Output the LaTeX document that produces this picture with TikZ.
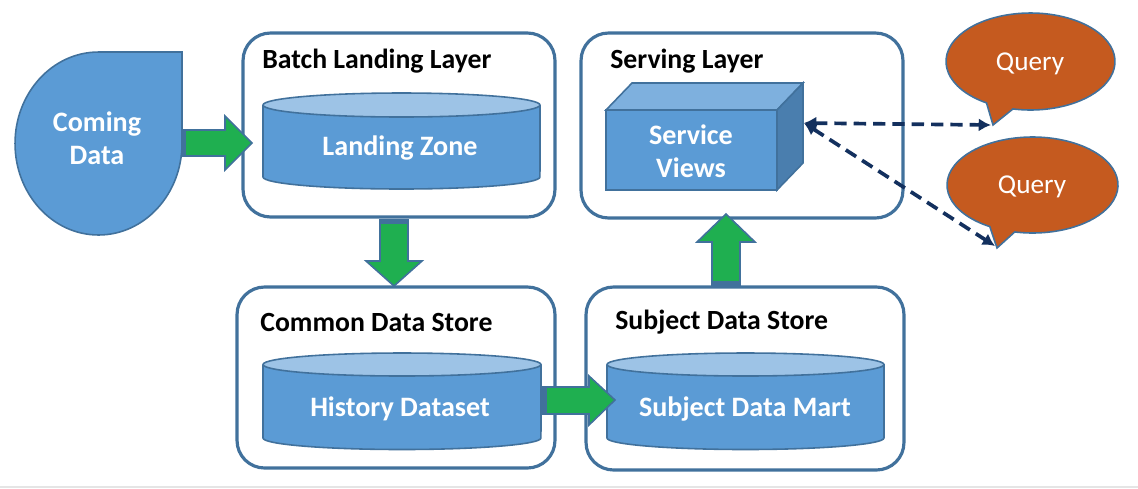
\documentclass[tikz,border=0pt]{standalone}
\usepackage{fontspec}
\setmainfont{Carlito}
\usetikzlibrary{arrows.meta,calc}
\definecolor{boxline}{HTML}{41719C}
\definecolor{cylfill}{HTML}{5B9BD5}
\definecolor{cyltop}{HTML}{9DC3E6}
\definecolor{cubetop}{HTML}{7EB0DE}
\definecolor{cuberight}{HTML}{4A7EAE}
\definecolor{arrowgreen}{HTML}{1FAF50}
\definecolor{queryorange}{HTML}{C55A1F}
\definecolor{navy}{HTML}{13305E}
\begin{document}
\begin{tikzpicture}[x=0.02cm,y=-0.02cm,
  layer/.style={draw=boxline, line width=1.8pt, rounded corners=0.55cm, fill=white, inner sep=0pt},
  title/.style={font=\fontsize{15.8}{18}\selectfont\bfseries, anchor=base west, inner sep=0pt},
  wtext/.style={font=\fontsize{16}{18.7}\selectfont\bfseries, text=white, align=center, inner sep=0pt},
  qtext/.style={font=\fontsize{15.5}{18}\selectfont, text=white, inner sep=0pt},
  shapeline/.style={draw=boxline, line width=0.9pt},
  barrow/.style={fill=arrowgreen, draw=boxline, line width=0.9pt, line join=miter},
  band/.style={fill=boxline},
  stripe/.style={draw=arrowgreen, line width=0.7pt},
  qline/.style={draw=navy, line width=2.1pt, dash pattern=on 7pt off 4pt,
     {Latex[length=7pt,width=7.5pt]}-{Latex[length=7pt,width=7.5pt]}}
]
\useasboundingbox (0,0) rectangle (1138,488);
\draw[black!10, line width=0.6pt] (0,487) -- (1138,487);

% layer boxes
\node[layer, minimum width=6.24cm, minimum height=3.68cm] (batch) at (399,125) {};
\node[layer, minimum width=6.44cm, minimum height=3.70cm] (serving) at (742,125.5) {};
\node[layer, minimum width=6.36cm, minimum height=3.62cm] (common) at (396,377.5) {};
\node[layer, minimum width=6.36cm, minimum height=3.66cm] (subject) at (745,378.5) {};

\node[title] (tbatch) at (262,68) {Batch Landing Layer};
\node[title] (tserving) at (610,68) {Serving Layer};
\node[title] (tcommon) at (260,331) {Common Data Store};
\node[title] (tsubject) at (615,329) {Subject Data Store};

% Coming data
\draw[shapeline, fill=cylfill] (182,52) -- (182,143.5)
  arc[start angle=0, end angle=-270, x radius=1.67cm, y radius=1.83cm] -- cycle;
\node[wtext] (coming) at (97,138) {Coming\\Data};

% cylinders
\draw[shapeline, fill=cylfill] (263,105) -- (263,177)
  arc[start angle=180, end angle=360, x radius=2.77cm, y radius=0.24cm] -- (540,105);
\draw[shapeline, fill=cyltop] (401.5,105) ellipse[x radius=2.77cm, y radius=0.24cm];
\node[wtext] (landing) at (400,148) {Landing Zone};

\draw[shapeline, fill=cylfill] (263,364.5) -- (263,438)
  arc[start angle=180, end angle=360, x radius=2.78cm, y radius=0.23cm] -- (541,364.5);
\draw[shapeline, fill=cyltop] (402,364.5) ellipse[x radius=2.78cm, y radius=0.23cm];
\node[wtext] (history) at (400,409) {History Dataset};

\draw[shapeline, fill=cylfill] (607,364.5) -- (607,438)
  arc[start angle=180, end angle=360, x radius=2.77cm, y radius=0.23cm] -- (884,364.5);
\draw[shapeline, fill=cyltop] (745.5,364.5) ellipse[x radius=2.77cm, y radius=0.23cm];
\node[wtext] (mart) at (745,409) {Subject Data Mart};

% cube
\draw[shapeline, fill=cylfill] (606,110) rectangle (777,190);
\draw[shapeline, fill=cubetop] (606,110) -- (632,83) -- (803,83) -- (777,110) -- cycle;
\draw[shapeline, fill=cuberight] (777,110) -- (803,83) -- (803,163) -- (777,190) -- cycle;
\node[wtext] (views) at (691,151) {Service\\Views};
\coordinate (cubeport) at (804,123);

% green block arrows
\draw[barrow] (182,130) -- (225,130) -- (225,116) -- (252,143) -- (225,170) -- (225,156) -- (182,156) -- cycle;
\fill[band] (182,130) rectangle (186,156);
\draw[stripe] (188,131) -- (188,155);

\draw[barrow] (380,220) -- (380,261) -- (366,261) -- (394,286) -- (422,261) -- (408,261) -- (408,220) -- cycle;
\fill[band] (380,220) rectangle (408,224);
\draw[stripe] (381,226) -- (407,226);

\draw[barrow] (543,387) -- (589,387) -- (589,376) -- (615,400) -- (589,425) -- (589,414) -- (543,414) -- cycle;
\fill[band] (543,387) rectangle (547,414);
\draw[stripe] (549,388) -- (549,413);

\draw[barrow] (712,285) -- (712,242) -- (697,242) -- (726,214) -- (755,242) -- (740,242) -- (740,285) -- cycle;
\fill[band] (712,281) rectangle (740,285);
\draw[stripe] (713,279) -- (739,279);

% query bubbles
\coordinate (q1tip) at (993,125);
\coordinate (q2tip) at (997,248);
\draw[shapeline, fill=queryorange] (q1tip) -- ($(1030.5,61.5)+(238.6:1.69cm and 0.97cm)$)
  arc[start angle=238.6, end angle=-102, x radius=1.69cm, y radius=0.97cm] -- cycle;
\draw[shapeline, fill=queryorange] (q2tip) -- ($(1032.5,185)+(240:1.71cm and 0.96cm)$)
  arc[start angle=240, end angle=-102, x radius=1.71cm, y radius=0.96cm] -- cycle;
\node[qtext] (query1) at (1030,64) {Query};
\node[qtext] (query2) at (1032,187) {Query};

% dashed connectors
\draw[qline] (cubeport) -- ($(q1tip)+(-2,0)$);
\draw[qline] (cubeport) -- ($(q2tip)+(-2,-2)$);
\end{tikzpicture}
\end{document}
